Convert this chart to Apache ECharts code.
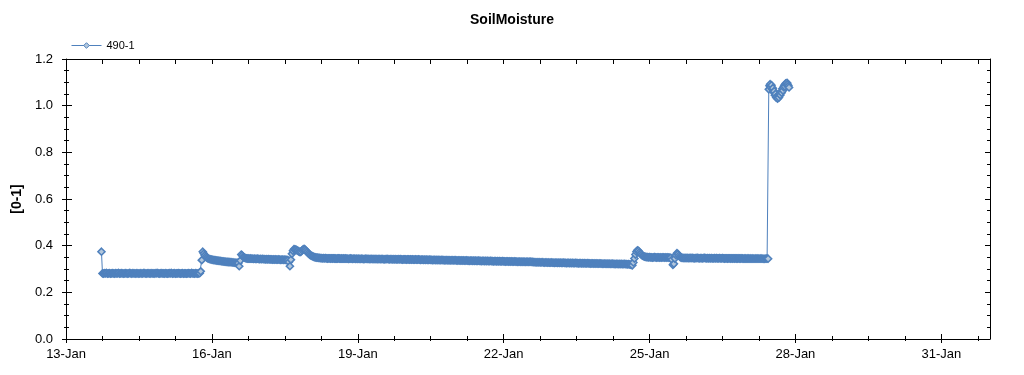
<!DOCTYPE html>
<html>
<head>
<meta charset="utf-8">
<script src="https://cdn.jsdelivr.net/npm/echarts@6/dist/echarts.min.js"></script>
<style>
html,body{margin:0;padding:0;background:#fff;}
#chart{width:1024px;height:375px;}
</style>
</head>
<body>
<div id="chart"></div>
<script>
// ---------- data ----------
const chartTitle = 'SoilMoisture';
const seriesName = '490-1';
const yAxisName = '[0-1]';
const monthNames = ['Jan','Feb','Mar','Apr','May','Jun','Jul','Aug','Sep','Oct','Nov','Dec'];
const xTickLabels = ['13-Jan','16-Jan','19-Jan','22-Jan','25-Jan','28-Jan','31-Jan'];
const xRangeStart = '2018-01-13T00:00:00Z';
const xRangeEnd = '2018-02-01T00:00:00Z';
const yTickLabels = ['0.0','0.2','0.4','0.6','0.8','1.0','1.2'];

// 30-minute logger readings, starting 13-Jan 17:30 (12 readings per row = 6 h)
const seg1Start = '2018-01-13T17:30:00Z';
const seg1StepMinutes = 30;
const seg1Values = [
0.374,0.281,0.280,0.282,0.281,0.283,0.280,0.281,0.282,0.280,0.281,0.282,
0.281,0.280,0.282,0.281,0.281,0.283,0.280,0.281,0.282,0.281,0.280,0.281,
0.282,0.281,0.280,0.281,0.283,0.281,0.280,0.282,0.281,0.281,0.280,0.282,
0.281,0.280,0.281,0.282,0.280,0.281,0.283,0.281,0.280,0.281,0.282,0.281,
0.280,0.282,0.281,0.281,0.280,0.282,0.281,0.283,0.281,0.280,0.281,0.282,
0.281,0.281,0.280,0.282,0.281,0.280,0.281,0.282,0.281,0.283,0.280,0.281,
0.282,0.280,0.281,0.281,0.282,0.281,0.280,0.281,0.282,0.280,0.281,0.281,
0.280,0.281,0.282,0.281,0.280,0.283,0.281,0.281,0.280,0.282,0.281,0.280,
0.281,0.282,0.290,0.338,0.374,0.366,0.358,0.353,0.349,0.346,0.344,0.342,
0.341,0.340,0.339,0.338,0.338,0.337,0.336,0.336,0.335,0.335,0.334,0.333,
0.333,0.332,0.332,0.331,0.331,0.330,0.330,0.329,0.329,0.328,0.328,0.327,
0.327,0.326,0.326,0.325,0.312,0.336,0.362,0.358,0.352,0.349,0.347,0.346,
0.345,0.345,0.344,0.345,0.344,0.344,0.343,0.344,0.343,0.343,0.344,0.343,
0.342,0.343,0.342,0.343,0.342,0.342,0.341,0.342,0.341,0.342,0.341,0.341,
0.341,0.340,0.341,0.340,0.341,0.340,0.340,0.341,0.340,0.339,0.340,0.340,
0.339,0.340,0.339,0.339,0.338,0.330,0.312,0.340,0.365,0.378,0.385,0.384,
0.383,0.380,0.378,0.375,0.372,0.374,0.380,0.384,0.386,0.383,0.378,0.373,
0.368,0.364,0.360,0.357,0.355,0.353,0.351,0.350,0.349,0.349,0.348,0.348,
0.347,0.347,0.346,0.347,0.346,0.347,0.346,0.345,0.346,0.346,0.345,0.346,
0.345,0.346,0.345,0.345,0.344,0.345,0.346,0.345,0.344,0.345,0.344,0.345,
0.344,0.345,0.344,0.344,0.343,0.344,0.345,0.344,0.343,0.344,0.344,0.343,
0.344,0.343,0.344,0.343,0.343,0.344,0.343,0.342,0.343,0.344,0.343,0.343,
0.343,0.342,0.343,0.343,0.342,0.343,0.342,0.343,0.342,0.342,0.343,0.342,
0.342,0.343,0.342,0.341,0.342,0.342,0.343,0.342,0.341,0.342,0.342,0.341,
0.342,0.341,0.342,0.341,0.341,0.342,0.341,0.342,0.341,0.340,0.341,0.341,
0.341,0.340,0.341,0.341,0.340,0.341,0.340,0.341,0.340,0.340,0.341,0.340,
0.340,0.341,0.340,0.339,0.340,0.340,0.339,0.340,0.339,0.340,0.339,0.339,
0.340,0.339,0.339,0.338,0.339,0.339,0.338,0.339,0.338,0.339,0.338,0.338,
0.339,0.338,0.338,0.337,0.338,0.338,0.337,0.338,0.337,0.337,0.338,0.337,
0.337,0.338,0.337,0.336,0.337,0.337,0.336,0.337,0.336,0.337,0.336,0.336,
0.337,0.336,0.336,0.335,0.336,0.336,0.335,0.336,0.335,0.336,0.335,0.335,
0.336,0.335,0.335,0.334,0.335,0.335,0.334,0.335,0.334,0.335,0.334,0.334,
0.335,0.334,0.334,0.333,0.334,0.334,0.333,0.334,0.333,0.334,0.333,0.333,
0.334,0.333,0.333,0.332,0.333,0.333,0.332,0.333,0.332,0.333,0.332,0.332,
0.333,0.332,0.332,0.331,0.332,0.332,0.331,0.332,0.331,0.332,0.331,0.331,
0.332,0.331,0.331,0.332,0.331,0.331,0.330,0.329,0.329,0.328,0.329,0.328,
0.329,0.328,0.328,0.329,0.328,0.327,0.328,0.328,0.327,0.328,0.327,0.327,
0.328,0.327,0.327,0.326,0.327,0.327,0.326,0.327,0.326,0.327,0.326,0.326,
0.327,0.326,0.326,0.325,0.326,0.326,0.325,0.326,0.325,0.326,0.325,0.325,
0.326,0.325,0.325,0.324,0.325,0.325,0.324,0.325,0.324,0.325,0.324,0.324,
0.325,0.324,0.324,0.323,0.324,0.324,0.323,0.324,0.323,0.324,0.323,0.323,
0.324,0.323,0.323,0.322,0.323,0.323,0.322,0.323,0.322,0.323,0.322,0.322,
0.323,0.322,0.322,0.321,0.322,0.322,0.321,0.322,0.321,0.322,0.321,0.321,
0.322,0.321,0.321,0.320,0.321,0.320,0.319,0.318,0.316,0.328,0.345,0.362,
0.374,0.380,0.378,0.372,0.366,0.361,0.357,0.355,0.353,0.352,0.351,0.351,
0.350,0.351,0.350,0.350,0.349,0.350,0.351,0.350,0.349,0.350,0.350,0.349,
0.350,0.349,0.350,0.350,0.349,0.350,0.349,0.350,0.349,0.349,0.348,0.340,
0.318,0.322,0.345,0.360,0.368,0.364,0.357,0.352,0.349,0.348,0.348,0.347,
0.348,0.347,0.348,0.347,0.347,0.348,0.347,0.348,0.347,0.346,0.347,0.347,
0.348,0.347,0.346,0.347,0.347,0.346,0.347,0.348,0.347,0.346,0.347,0.346,
0.347,0.346,0.347,0.346,0.346,0.347,0.346,0.347,0.346,0.346,0.347,0.346,
0.346,0.347,0.346,0.345,0.346,0.346,0.345,0.346,0.346,0.345,0.346,0.345,
0.346,0.345,0.346,0.345,0.345,0.346,0.345,0.345,0.346,0.345,0.344,0.345,
0.345,0.344,0.345,0.345,0.344,0.345,0.344,0.345,0.344,0.344,0.345,0.344,
0.345,0.344,0.344,0.345,0.344,0.344,0.343,0.344,0.344,0.345,0.344
];

// 20-minute readings after the jump on 27-Jan
const seg2Start = '2018-01-27T10:50:00Z';
const seg2StepMinutes = 20;
const seg2Values = [
1.070,1.085,1.092,1.080,1.088,1.070,1.075,1.058,1.062,1.045,
1.050,1.035,1.040,1.030,1.042,1.035,1.050,1.045,1.060,1.055,
1.072,1.065,1.080,1.088,1.082,1.095,1.090,1.098,1.092,1.085,
1.078
];

// ---------- build ----------
function labelToTime(lbl) {
  const p = lbl.split('-');
  return Date.UTC(2018, monthNames.indexOf(p[1]), parseInt(p[0], 10));
}
function buildSeg(start, stepMin, vals) {
  const t0 = Date.parse(start);
  return vals.map((v, i) => [t0 + i * stepMin * 60000, v]);
}
const seriesData = buildSeg(seg1Start, seg1StepMinutes, seg1Values)
  .concat(buildSeg(seg2Start, seg2StepMinutes, seg2Values));

const xMin = Date.parse(xRangeStart);
const xMax = Date.parse(xRangeEnd);
const majorX = xTickLabels.map(labelToTime);
const minorStep = 18 * 3600000;
const minorX = [];
for (let t = xMin; t <= xMax; t += minorStep) minorX.push(t);

const FONT = '"Liberation Sans", Arial, sans-serif';
const BLACK = '#000';
const yMax = parseFloat(yTickLabels[yTickLabels.length - 1]);
const yInterval = parseFloat(yTickLabels[1]) - parseFloat(yTickLabels[0]);

function fmtX(v) {
  const d = new Date(v);
  return d.getUTCDate() + '-' + monthNames[d.getUTCMonth()];
}

const baseX = {
  type: 'value', min: xMin, max: xMax, splitLine: {show: false},
  axisLine: {show: false, onZero: false}, axisLabel: {show: false}
};
const baseY = {
  type: 'value', min: 0, max: yMax, interval: yInterval, splitLine: {show: false},
  axisLine: {show: false, onZero: false}, axisLabel: {show: false}
};

const option = {
  animation: false,
  backgroundColor: '#fff',
  title: {
    text: chartTitle, left: 'center', top: 8,
    textStyle: {fontFamily: FONT, fontSize: 14, fontWeight: 'bold', color: BLACK}
  },
  legend: {
    left: 66, top: 35, itemWidth: 30, itemHeight: 7, itemGap: 10,
    lineStyle: {width: 1},
    itemStyle: {borderWidth: 1},
    textStyle: {fontFamily: FONT, fontSize: 11, color: BLACK},
    data: [seriesName]
  },
  grid: {left: 66, right: 34, top: 59, bottom: 36},
  xAxis: [
    Object.assign({}, baseX, {
      position: 'bottom',
      axisLine: {show: true, onZero: false, lineStyle: {color: BLACK, width: 1}},
      axisTick: {show: true, customValues: majorX, inside: false, length: 4, lineStyle: {color: BLACK}},
      axisLabel: {show: true, customValues: majorX, formatter: fmtX, margin: 9,
        fontFamily: FONT, fontSize: 13, color: BLACK}
    }),
    Object.assign({}, baseX, {
      position: 'bottom',
      axisTick: {show: true, customValues: majorX, inside: true, length: 5, lineStyle: {color: BLACK}}
    }),
    Object.assign({}, baseX, {
      position: 'bottom',
      axisTick: {show: true, customValues: minorX, inside: false, length: 2, lineStyle: {color: BLACK}}
    }),
    Object.assign({}, baseX, {
      position: 'bottom',
      axisTick: {show: true, customValues: minorX, inside: true, length: 3, lineStyle: {color: BLACK}}
    }),
    Object.assign({}, baseX, {
      position: 'top',
      axisLine: {show: true, onZero: false, lineStyle: {color: BLACK, width: 1}},
      axisTick: {show: true, customValues: minorX, inside: true, length: 5, lineStyle: {color: BLACK}}
    })
  ],
  yAxis: [
    Object.assign({}, baseY, {
      position: 'left',
      name: yAxisName, nameLocation: 'middle', nameGap: 40,
      nameTextStyle: {fontFamily: FONT, fontSize: 14, fontWeight: 'bold', color: BLACK},
      axisLine: {show: true, onZero: false, lineStyle: {color: BLACK, width: 1}},
      axisTick: {show: true, inside: false, length: 4, lineStyle: {color: BLACK}},
      minorTick: {show: true, splitNumber: 4, length: 2, lineStyle: {color: BLACK}},
      axisLabel: {show: true, margin: 13, formatter: (v) => yTickLabels[Math.round(v / yInterval)] || '',
        fontFamily: FONT, fontSize: 13, color: BLACK}
    }),
    Object.assign({}, baseY, {
      position: 'left',
      axisTick: {show: true, inside: true, length: 6, lineStyle: {color: BLACK}},
      minorTick: {show: true, splitNumber: 4, length: 3, lineStyle: {color: BLACK}}
    }),
    Object.assign({}, baseY, {
      position: 'right',
      axisLine: {show: true, onZero: false, lineStyle: {color: BLACK, width: 1}},
      axisTick: {show: true, inside: true, length: 5, lineStyle: {color: BLACK}},
      minorTick: {show: true, splitNumber: 4, length: 3, lineStyle: {color: BLACK}}
    })
  ],
  series: [{
    name: seriesName,
    type: 'line',
    xAxisIndex: 0, yAxisIndex: 0,
    data: seriesData,
    symbol: 'diamond', symbolSize: 7, showSymbol: true, showAllSymbol: true,
    lineStyle: {color: '#4f81bd', width: 1},
    itemStyle: {color: '#b3c7dc', borderColor: '#4f81bd', borderWidth: 1.6},
    emphasis: {disabled: true}
  }]
};

const chart = echarts.init(document.getElementById('chart'), null, {renderer: 'canvas'});
chart.setOption(option);
</script>
</body>
</html>
